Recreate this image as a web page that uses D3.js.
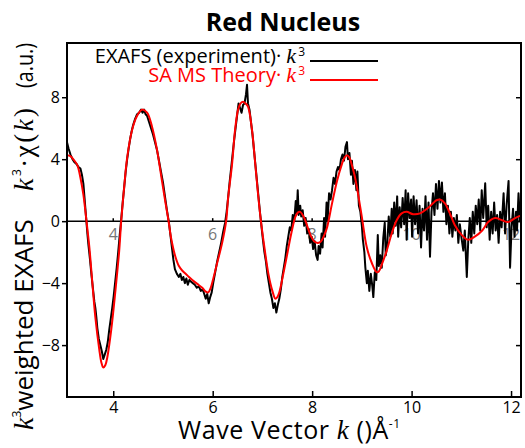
<!DOCTYPE html>
<html lang="en">
  <head>
    <meta charset="UTF-8" />
    <title>Red Nucleus</title>
    <style>
      body {
        margin: 0;
        background: #fff;
        font-family: "Open Sans", sans-serif;
      }
      .line {
        fill: none;
        stroke-linejoin: round;
      }
      .axis text {
        font-family: "Open Sans", sans-serif;
        font-size: 16px;
        fill: #000;
      }
      .axis path {
        display: none;
      }
      .axis line {
        stroke: #000;
        stroke-width: 1.5px;
      }
      .serif-k {
        font-family: "Liberation Serif", serif;
        font-style: italic;
      }
    </style>
  </head>
  <body>
    <div class="svg-container"></div>
    <script src="https://d3js.org/d3.v7.min.js"></script>
    <script>
      // k (1/A), k^3 chi(k)
      var experiment = [
        [3.07,5.1],[3.10,4.7],[3.14,4.3],[3.18,4.0],[3.22,3.8],[3.26,3.7],[3.30,3.5],[3.34,3.4],[3.37,3.0],[3.40,2.4],
        [3.42,1.6],[3.44,0.8],[3.46,0.0],[3.48,-0.8],[3.50,-1.5],[3.53,-2.4],[3.56,-3.4],[3.59,-4.3],[3.62,-5.2],[3.64,-5.6],
        [3.66,-6.2],[3.68,-6.9],[3.71,-7.6],[3.74,-8.0],[3.77,-8.4],[3.80,-8.9],[3.83,-8.6],[3.86,-8.3],[3.89,-7.8],[3.92,-7.0],
        [3.95,-6.3],[3.98,-5.6],[4.01,-4.8],[4.04,-3.9],[4.07,-3.0],[4.10,-2.0],[4.13,-0.9],[4.16,0.1],[4.19,1.2],[4.22,2.2],
        [4.25,3.2],[4.28,4.0],[4.31,4.7],[4.34,5.3],[4.37,5.8],[4.40,6.2],[4.44,6.6],[4.48,6.9],[4.52,7.0],[4.56,7.2],
        [4.59,7.0],[4.62,7.2],[4.65,6.9],[4.68,6.8],[4.72,6.4],[4.76,6.0],[4.80,5.6],[4.84,5.1],[4.88,4.6],[4.92,3.9],
        [4.96,3.2],[5.00,2.5],[5.04,1.6],[5.08,0.7],[5.12,-0.1],[5.15,-0.9],[5.18,-1.7],[5.21,-2.5],[5.24,-3.1],[5.28,-3.4],
        [5.32,-3.6],[5.35,-3.4],[5.38,-3.8],[5.41,-3.6],[5.44,-4.0],[5.47,-3.7],[5.50,-4.1],[5.53,-3.8],[5.56,-3.9],[5.60,-4.0],
        [5.64,-4.1],[5.68,-4.3],[5.72,-4.2],[5.76,-4.5],[5.80,-4.4],[5.83,-4.7],[5.86,-5.0],[5.89,-4.7],[5.92,-5.3],[5.95,-4.9],
        [5.98,-4.6],[6.01,-4.0],[6.05,-3.3],[6.09,-2.6],[6.13,-2.0],[6.17,-1.4],[6.21,-0.7],[6.25,-0.1],[6.28,0.6],[6.31,1.5],
        [6.34,2.5],[6.37,3.4],[6.40,4.3],[6.43,5.2],[6.46,6.0],[6.49,6.8],[6.52,7.6],[6.55,7.3],[6.58,7.0],[6.61,7.5],
        [6.64,7.6],[6.67,8.2],[6.69,8.8],[6.71,7.6],[6.74,7.2],[6.77,6.4],[6.80,5.6],[6.83,4.6],[6.86,3.6],[6.89,2.6],
        [6.92,1.6],[6.95,0.6],[6.98,-0.3],[7.01,-1.2],[7.04,-2.0],[7.07,-2.6],[7.10,-3.4],[7.13,-4.0],[7.16,-4.6],[7.19,-5.0],
        [7.22,-5.6],[7.25,-5.3],[7.28,-5.9],[7.31,-5.4],[7.34,-5.0],[7.37,-4.4],[7.40,-3.6],[7.43,-3.0],[7.46,-2.4],[7.49,-1.6],
        [7.52,-1.0],[7.55,-0.4],[7.58,-0.6],[7.61,0.4],[7.64,0.0],[7.67,1.3],[7.69,0.5],[7.71,2.0],[7.73,0.4],[7.76,1.0],
        [7.78,0.3],[7.81,0.7],[7.84,-0.3],[7.87,0.2],[7.90,-0.8],[7.93,-0.5],[7.96,-1.4],[7.99,-1.0],[8.02,-1.8],[8.05,-1.3],
        [8.08,-2.2],[8.11,-2.5],[8.13,-1.6],[8.16,-2.1],[8.19,-0.8],[8.21,-1.7],[8.24,0.2],[8.26,-1.0],[8.29,1.2],[8.31,0.0],
        [8.34,1.8],[8.37,1.4],[8.40,2.0],[8.43,2.8],[8.46,2.4],[8.49,3.2],[8.52,3.5],[8.55,3.3],[8.58,4.0],[8.61,4.3],
        [8.64,3.9],[8.67,4.8],[8.70,5.1],[8.72,4.0],[8.75,4.4],[8.78,3.0],[8.80,3.9],[8.83,2.4],[8.86,3.3],[8.89,2.0],
        [8.91,3.2],[8.94,1.0],[8.97,0.6],[9.00,-0.3],[9.02,-1.2],[9.05,-2.0],[9.07,-3.0],[9.10,-4.0],[9.12,-3.2],[9.15,-4.5],
        [9.18,-3.4],[9.21,-4.2],[9.23,-4.9],[9.26,-3.3],[9.29,-3.8],[9.32,-0.9],[9.34,-2.9],[9.37,-2.2],[9.40,-3.0],[9.43,-1.1],
        [9.46,-0.1],[9.48,-2.2],[9.51,-1.5],[9.54,0.3],[9.57,-1.0],[9.60,0.8],[9.62,-0.8],[9.65,1.2],[9.68,-0.3],[9.71,1.6],
        [9.73,-1.0],[9.76,0.9],[9.79,-0.4],[9.82,1.5],[9.85,-0.2],[9.88,2.0],[9.90,-1.2],[9.93,1.8],[9.96,0.2],[9.99,1.4],
        [10.01,-1.0],[10.04,1.6],[10.07,-0.2],[10.10,1.35],[10.13,-0.8],[10.16,1.0],[10.19,-1.7],[10.22,0.8],[10.25,-0.6],[10.28,1.6],
        [10.31,-1.2],[10.34,1.2],[10.37,-2.3],[10.40,0.6],[10.43,1.8],[10.46,0.4],[10.49,2.4],[10.52,0.8],[10.55,2.6],[10.58,1.2],
        [10.61,2.5],[10.64,0.6],[10.67,1.8],[10.70,-0.2],[10.73,1.0],[10.76,-0.8],[10.79,0.6],[10.82,-1.0],[10.85,0.2],[10.88,-0.6],
        [10.91,0.4],[10.94,-1.4],[10.97,-0.2],[11.00,-1.0],[11.04,-1.9],[11.07,-0.6],[11.11,-3.6],[11.14,-1.2],[11.17,0.2],[11.20,-1.4],
        [11.23,0.6],[11.26,-0.8],[11.29,1.0],[11.32,-0.2],[11.35,1.4],[11.38,-0.6],[11.41,2.0],[11.44,0.2],[11.48,2.45],[11.51,-0.4],
        [11.54,1.0],[11.57,-1.2],[11.60,0.6],[11.63,-0.8],[11.66,1.2],[11.69,-0.6],[11.72,0.4],[11.75,-1.4],[11.78,0.6],[11.81,-0.4],
        [11.85,1.8],[11.88,-0.8],[11.91,1.0],[11.95,2.6],[11.98,-3.0],[12.01,-0.4],[12.04,0.8],[12.07,-1.0],[12.10,0.6],[12.12,-0.6],
        [12.15,1.8],[12.18,0.0],[12.20,0.8]
      ];

      var theory = [
        [3.07,4.26],[3.14,4.2],[3.22,3.9],[3.28,3.6],[3.34,2.8],[3.40,1.7],[3.46,0.06],[3.52,-1.7],[3.58,-4.0],[3.64,-6.2],
        [3.72,-8.3],[3.76,-9.1],[3.80,-9.45],[3.84,-9.3],[3.88,-8.8],[3.96,-7.0],[4.04,-4.6],[4.12,-1.9],[4.16,0.0],[4.22,2.2],
        [4.28,4.1],[4.38,5.9],[4.48,6.8],[4.58,7.2],[4.68,7.0],[4.78,6.1],[4.88,4.6],[4.98,2.6],[5.05,1.2],[5.11,0.06],
        [5.17,-1.2],[5.25,-2.3],[5.32,-2.9],[5.39,-3.2],[5.49,-3.5],[5.59,-3.8],[5.69,-4.05],[5.79,-4.3],[5.86,-4.55],[5.91,-4.6],
        [5.96,-4.3],[6.02,-3.6],[6.09,-2.7],[6.19,-1.4],[6.27,0.0],[6.31,1.5],[6.39,3.7],[6.45,5.9],[6.51,7.2],[6.56,7.6],
        [6.61,7.7],[6.66,7.6],[6.71,7.4],[6.79,5.9],[6.85,3.9],[6.91,1.8],[6.97,0.0],[7.04,-1.7],[7.12,-3.4],[7.20,-4.5],
        [7.26,-5.0],[7.30,-4.9],[7.34,-4.6],[7.42,-3.4],[7.50,-2.1],[7.58,-0.8],[7.66,0.26],[7.71,0.55],[7.76,0.6],[7.81,0.4],
        [7.86,0.06],[7.92,-0.5],[7.98,-1.0],[8.04,-1.3],[8.10,-1.4],[8.16,-1.35],[8.20,-1.2],[8.25,-0.85],[8.30,-0.4],[8.40,1.15],
        [8.50,2.6],[8.60,3.7],[8.65,4.1],[8.70,4.26],[8.75,4.1],[8.80,3.6],[8.85,3.0],[8.90,2.2],[9.00,0.26],[9.10,-1.7],
        [9.20,-2.7],[9.30,-3.3],[9.34,-3.25],[9.40,-2.8],[9.50,-1.9],[9.60,-0.8],[9.70,0.06],[9.80,0.5],[9.90,0.6],[10.03,0.45],
        [10.17,0.5],[10.31,0.8],[10.43,1.15],[10.50,1.35],[10.57,1.4],[10.67,1.15],[10.77,0.5],[10.87,-0.26],[11.01,-0.9],[11.13,-1.2],
        [11.27,-1.0],[11.42,-0.6],[11.54,-0.06],[11.68,0.2],[11.82,0.06],[11.94,-0.06],[12.08,0.2],[12.23,0.4]
      ];

      var xTicks = [4, 6, 8, 10, 12];
      var yTicks = [-8, -4, 0, 4, 8];
      var seriesNames = ["EXAFS (experiment)·", "SA MS Theory·"];
      var seriesColors = ["#000", "#ff0000"];

      var width = 525,
        height = 448;
      var margin = { top: 43, right: 4, bottom: 51, left: 67 };

      var svg = d3
        .select(".svg-container")
        .append("svg")
        .attr("width", width)
        .attr("height", height);

      var x = d3
        .scaleLinear()
        .domain([3.07, 12.2])
        .range([margin.left, width - margin.right]);
      var y = d3
        .scaleLinear()
        .domain([-11.35, 11.5])
        .range([height - margin.bottom, margin.top]);

      svg
        .append("clipPath")
        .attr("id", "plot-clip")
        .append("rect")
        .attr("x", margin.left)
        .attr("y", margin.top)
        .attr("width", width - margin.left - margin.right)
        .attr("height", height - margin.top - margin.bottom);

      // title
      svg
        .append("text")
        .attr("x", 283)
        .attr("y", 31)
        .attr("text-anchor", "middle")
        .style("font-weight", "bold")
        .style("font-size", "25px")
        .text("Red Nucleus");

      // zero line with its own little grey labels
      svg
        .append("line")
        .attr("x1", x.range()[0])
        .attr("x2", x.range()[1])
        .attr("y1", y(0))
        .attr("y2", y(0))
        .attr("stroke", "#000")
        .attr("stroke-width", 1.5);

      var inner = svg
        .selectAll(".inner-tick")
        .data(xTicks)
        .enter()
        .append("g")
        .attr("class", "inner-tick")
        .attr("transform", (d) => "translate(" + x(d) + "," + y(0) + ")");
      inner
        .append("line")
        .attr("y1", 0)
        .attr("y2", -3)
        .attr("stroke", "#000")
        .attr("stroke-width", 1.5);
      inner
        .append("text")
        .attr("y", 19)
        .attr("text-anchor", "middle")
        .style("font-size", "16px")
        .style("fill", "#777")
        .text((d) => d);

      // data lines
      var line = d3
        .line()
        .x((d) => x(d[0]))
        .y((d) => y(d[1]));

      var smooth = d3
        .line()
        .curve(d3.curveCatmullRom)
        .x((d) => x(d[0]))
        .y((d) => y(d[1]));

      var lines = svg.append("g").attr("clip-path", "url(#plot-clip)");

      lines
        .append("path")
        .datum(experiment)
        .attr("class", "line")
        .attr("stroke", seriesColors[0])
        .attr("stroke-width", 2)
        .attr("d", line);

      lines
        .append("path")
        .datum(theory)
        .attr("class", "line")
        .attr("stroke", seriesColors[1])
        .attr("stroke-width", 2)
        .attr("d", smooth);

      // axes
      svg
        .append("g")
        .attr("class", "axis")
        .attr("transform", "translate(" + margin.left + ",0)")
        .call(d3.axisLeft(y).tickValues(yTicks).tickSize(5).tickPadding(2));

      svg
        .append("g")
        .attr("class", "axis")
        .attr("transform", "translate(" + (width - margin.right) + ",0)")
        .call(d3.axisRight(y).tickValues(yTicks).tickSize(-5).tickFormat(""));

      svg
        .append("g")
        .attr("class", "axis")
        .attr("transform", "translate(0," + (height - margin.bottom) + ")")
        .call(d3.axisBottom(x).tickValues(xTicks).tickSize(-6).tickPadding(5));

      // frame
      svg
        .append("rect")
        .attr("x", margin.left)
        .attr("y", margin.top)
        .attr("width", width - margin.left - margin.right)
        .attr("height", height - margin.top - margin.bottom)
        .attr("fill", "none")
        .attr("stroke", "#000")
        .attr("stroke-width", 2);

      // legend
      var legend = svg
        .selectAll(".legend")
        .data(seriesNames)
        .enter()
        .append("g")
        .attr("class", "legend")
        .attr("transform", (d, i) => "translate(0," + (63 + i * 19) + ")");

      var legendText = legend
        .append("text")
        .attr("x", 305)
        .attr("text-anchor", "end")
        .style("font-size", "20px")
        .style("fill", (d, i) => seriesColors[i]);
      legendText.append("tspan").text((d) => d + " ");
      legendText
        .append("tspan")
        .attr("class", "serif-k")
        .style("font-size", "22px")
        .text("k");
      legendText
        .append("tspan")
        .attr("dx", 2)
        .attr("dy", -7)
        .style("font-size", "12px")
        .text("3");

      legend
        .append("line")
        .attr("x1", 310)
        .attr("x2", 378)
        .attr("y1", -2)
        .attr("y2", -2)
        .attr("stroke", (d, i) => seriesColors[i])
        .attr("stroke-width", 2);

      // y axis label, three pieces running upwards
      var yl1 = svg
        .append("text")
        .attr("transform", "translate(33,430) rotate(-90)")
        .style("font-size", "26px");
      yl1.append("tspan").attr("class", "serif-k").style("font-size", "28px").text("k");
      yl1.append("tspan").attr("dy", -12).style("font-size", "12px").text("3");
      yl1.append("tspan").attr("dy", 12).text("weighted EXAFS");

      var yl2 = svg
        .append("text")
        .attr("transform", "translate(33,191) rotate(-90)")
        .style("font-size", "26px")
        .style("letter-spacing", "2.5px");
      yl2.append("tspan").attr("class", "serif-k").style("font-size", "28px").text("k");
      yl2.append("tspan").attr("dy", -12).style("font-size", "12px").text("3");
      yl2.append("tspan").attr("dy", 12).text("·");
      yl2
        .append("tspan")
        .style("font-family", "Liberation Serif, serif")
        .style("font-size", "27px")
        .text("χ(");
      yl2.append("tspan").attr("class", "serif-k").style("font-size", "27px").text("k");
      yl2
        .append("tspan")
        .style("font-family", "Liberation Serif, serif")
        .style("font-size", "27px")
        .text(")");

      svg
        .append("text")
        .attr("transform", "translate(33,88) rotate(-90)")
        .attr("textLength", 45)
        .attr("lengthAdjust", "spacingAndGlyphs")
        .style("font-size", "24px")
        .text("(a.u.)");

      // x axis label
      var xl = svg
        .append("text")
        .attr("x", 178)
        .attr("y", 439)
        .style("font-size", "25px")
        .style("letter-spacing", "0.6px");
      xl.append("tspan").text("Wave Vector ");
      xl.append("tspan").attr("class", "serif-k").style("font-size", "27px").text("k");
      xl.append("tspan").text(" ()Å");
      xl.append("tspan").attr("dy", -11).style("font-size", "12px").text("-1");
    </script>
  </body>
</html>
